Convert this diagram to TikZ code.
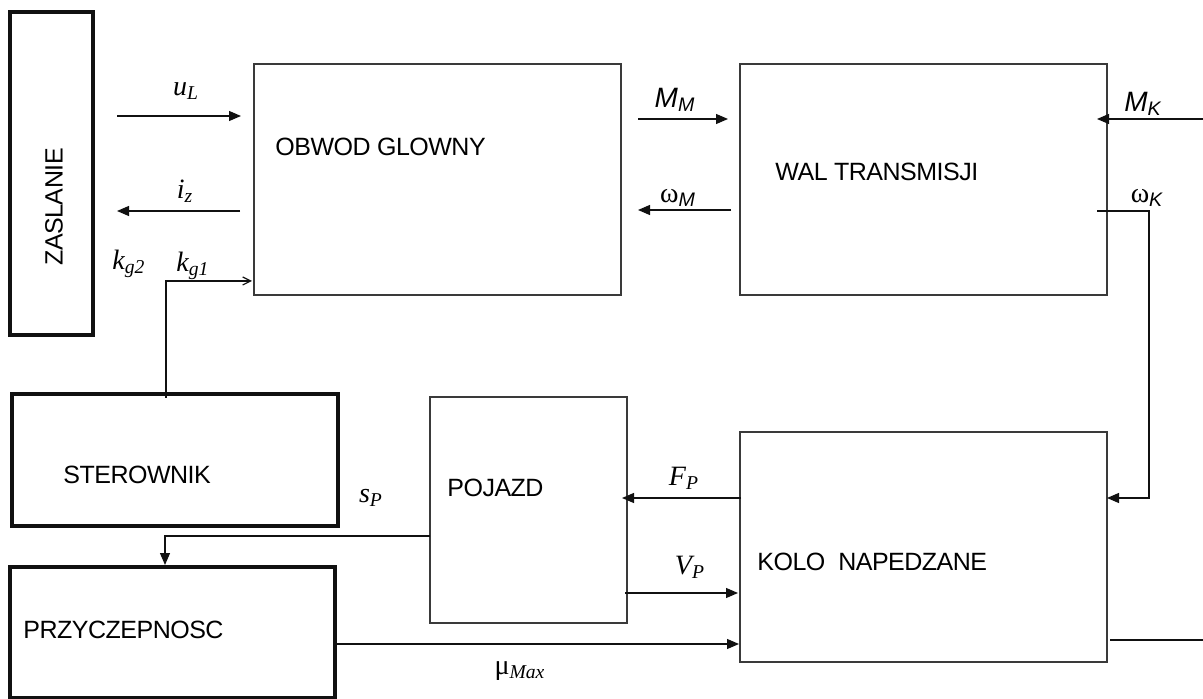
\documentclass[tikz,border=0pt]{standalone}
\usepackage{fontspec}
\setmainfont{Liberation Sans}[LetterSpace=-2]
\newfontfamily\labserif{Liberation Serif}
\newfontfamily\labsans{Liberation Sans}
\usetikzlibrary{arrows.meta,positioning,calc}
\definecolor{Frame}{HTML}{3A3A3A}
\definecolor{Ink}{HTML}{111111}

\begin{document}
\begin{tikzpicture}[x=0.5pt,y=-0.5pt,
  block/.style={draw=Frame,line width=0.8pt,inner sep=0pt,outer sep=0pt},
  heavy/.style={block,draw=Ink,line width=2pt},
  title/.style={inner sep=0pt,anchor=west,font=\fontsize{12.5}{15}\selectfont},
  sym/.style={inner sep=0pt,font=\labserif\itshape\fontsize{14}{16}\selectfont},
  sig/.style={draw=Ink,line width=0.6pt,-{Triangle[length=6pt,width=5pt]}},
  wire/.style={draw=Ink,line width=0.6pt}
]
\useasboundingbox (0,0) rectangle (1203,699);
\node[heavy,minimum width=41.5pt,minimum height=161.5pt] (zas) at (51.5,173.5) {};
\node[block,minimum width=183.5pt,minimum height=115.5pt] (obw) at (437.5,179.5) {};
\node[block,minimum width=183.5pt,minimum height=115.5pt] (wal) at (923.5,179.5) {};
\node[heavy,minimum width=163pt,minimum height=66pt] (ster) at (175,460) {};
\node[heavy,minimum width=162.5pt,minimum height=65.5pt] (przy) at (172.5,632.5) {};
\node[block,minimum width=98.5pt,minimum height=113pt] (pojazd) at (528.5,510) {};
\node[block,minimum width=183.5pt,minimum height=115pt] (kolo) at (923.5,547) {};
\node[title,anchor=center,rotate=90] (zastxt) at (54,207) {ZASLANIE};
\node[title] (obwtxt) at (275,147) {OBWOD GLOWNY};
\node[title] (waltxt) at (775,172) {WAL TRANSMISJI};
\node[title] (stertxt) at (63,475) {STEROWNIK};
\node[title] (przytxt) at (23,630) {PRZYCZEPNOSC};
\node[title] (pojtxt) at (447,488) {POJAZD};
\node[title] (kolotxt) at (757,562) {KOLO\ \ NAPEDZANE};
\node[sym] (uL) at (186,91) {u\textsubscript{L}};
\node[sym] (iz) at (185,191) {i\textsubscript{z}};
\node[sym] (kg2) at (129,264) {k\textsubscript{g2}};
\node[sym] (kg1) at (193,266) {k\textsubscript{g1}};
\node[sym] (MM) at (675,100) {\labsans M\textsubscript{M}};
\node[sym] (wM) at (678,198) {\upshape ω\textsubscript{\itshape\labsans M}};
\node[sym] (MK) at (1143,104) {\labsans M\textsubscript{K}};
\node[sym] (wK) at (1147,198) {\upshape ω\textsubscript{\itshape\labsans K}};
\node[sym] (FP) at (684,478) {F\textsubscript{P}};
\node[sym] (VP) at (690,567) {V\textsubscript{P}};
\node[sym] (sP) at (371,498) {s\textsubscript{P}};
\node[sym] (muMax) at (520,671) {\upshape μ\textsubscript{\itshape Max}};
\coordinate (mkin) at (1203,119);
\coordinate (kout) at (1203,640);
\foreach \a/\b/\y/\s/\e in {zas/obw/116/12/6.5, obw/wal/119/8.5/6, pojazd/kolo/593/-1/1, przy/kolo/644/0/0.5} {
  \draw[sig,shorten <=\s pt,shorten >=\e pt] (\a.east |- 0,\y) -- (\b.west |- 0,\y);
}
\foreach \a/\b/\y/\s/\e in {obw/zas/211/7/12, wal/obw/210/4.5/8.5, kolo/pojazd/498/-0.5/-2.5} {
  \draw[sig,shorten <=\s pt,shorten >=\e pt] (\a.west |- 0,\y) -- (\b.east |- 0,\y);
}
\draw[sig,shorten >=-5pt] (mkin) -- (wal.east |- mkin);
\draw[sig,shorten <=-5pt] (wal.east |- 0,211) -| ($(kolo.east |- 0,498)+(42,0)$) -- (kolo.east |- 0,498);
\draw[wire,shorten <=1.5pt] (kolo.east |- kout) -- (kout);
\draw[wire,-{Straight Barb[length=4pt,width=4pt]},shorten <=-2pt,shorten >=1pt] (ster.north -| 166,0) |- (obw.west |- 0,281);
\draw[sig,shorten >=1pt] (pojazd.west |- 0,536) -| (przy.north -| 165,0);
\end{tikzpicture}
\end{document}
